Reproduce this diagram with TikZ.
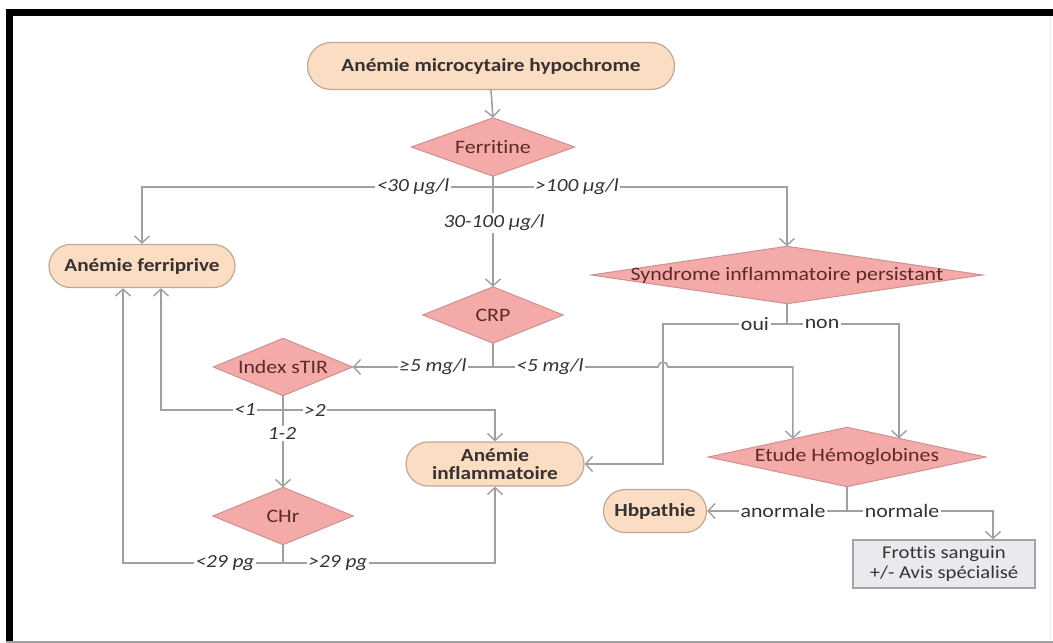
\documentclass[tikz,border=0pt]{standalone}
\usepackage{fontspec}
\setmainfont{Carlito}[FakeStretch=1.15,Ligatures=NoCommon]
\usetikzlibrary{arrows.meta,calc,backgrounds}
\definecolor{peach}{RGB}{251,221,196}
\definecolor{peachline}{RGB}{190,168,150}
\definecolor{pinkfill}{RGB}{245,170,170}
\definecolor{pinkline}{RGB}{205,145,145}
\definecolor{conncol}{RGB}{160,160,160}
\definecolor{txt}{RGB}{55,50,50}
\definecolor{diatxt}{RGB}{95,40,40}
\definecolor{boxfill}{RGB}{234,234,238}
\definecolor{boxline}{RGB}{165,165,168}
\begin{document}
\begin{tikzpicture}[x=1pt,y=-1pt,
  term/.style={rectangle, rounded corners=#1, draw=peachline, fill=peach, line width=1.2pt,
    inner sep=0pt, text=txt, font=\fontsize{18.5}{18}\selectfont\bfseries, align=center},
  dec/.style={rectangle, inner sep=0pt, text=diatxt, font=\fontsize{19}{20}\selectfont},
  dia/.style={draw=pinkline, fill=pinkfill, line width=1pt},
  plainbox/.style={rectangle, draw=boxline, fill=boxfill, line width=1.2pt, inner sep=0pt,
    text=txt, align=center, font=\fontsize{18}{20}\selectfont},
  conn/.style={draw=conncol, line width=1.6pt},
  arr/.style={conn, -{Straight Barb[length=7pt,width=15pt,line width=1.4pt]}},
  lbl/.style={fill=white, inner sep=1.5pt, text=txt, font=\fontsize{18.5}{19}\selectfont\itshape},
  ulbl/.style={fill=white, inner sep=1.5pt, text=txt, font=\fontsize{19}{19}\selectfont}
]
\useasboundingbox (0,0) rectangle (1053,643);
% frame
\fill[black] (6,9) rectangle (1053,16);
\fill[black] (6,9) rectangle (13,643);
\draw[gray!75, line width=2pt] (6,641.5) -- (1053,641.5);
\draw[gray!15, line width=1pt] (1050,16) -- (1050,640);

% nodes
\node[term=23.5, minimum width=367, minimum height=47] (top) at (491,66) {Anémie microcytaire hypochrome};
\node[dec, minimum width=163, minimum height=58] (fer) at (493,147) {Ferritine};
\node[term=21.5, minimum width=186, minimum height=43] (ferri) at (142,266) {Anémie ferriprive};
\node[dec, minimum width=391, minimum height=57] (syn) at (787,275) {Syndrome inflammatoire persistant};
\node[dec, minimum width=140, minimum height=56] (crp) at (493,315) {CRP};
\node[dec, minimum width=139, minimum height=57] (stir) at (283,367) {Index sTIR};
\node[term=22, minimum width=178, minimum height=44] (infl) at (495,464) {Anémie\\inflammatoire};
\node[dec, minimum width=277, minimum height=59] (etude) at (847,457) {Etude Hémoglobines};
\node[dec, minimum width=140, minimum height=57] (chr) at (283,516) {CHr};
\node[term=21.5, minimum width=103, minimum height=43] (hb) at (655,511) {Hbpathie};
\node[plainbox, minimum width=182, minimum height=48] (frot) at (944,564) {Frottis sanguin\\+/- Avis spécialisé};

\begin{scope}[on background layer]
\foreach \n in {fer,syn,crp,stir,etude,chr}
  \draw[dia] (\n.north) -- (\n.east) -- (\n.south) -- (\n.west) -- cycle;
\end{scope}

% junction coordinates
\coordinate (j1) at (493,187);
\coordinate (j2) at (493,367);
\coordinate (j3) at (283,410);
\coordinate (j4) at (283,563);
\coordinate (j5) at (787,324);
\coordinate (j6) at (847,511);
\coordinate (k) at (663,324);
\coordinate (fA) at ($(ferri.south)+(-19,0)$);
\coordinate (fB) at ($(ferri.south)+(19,0)$);
\coordinate (eA) at ($(etude.north)!0.39!(etude.west)$);
\coordinate (eB) at ($(etude.north)!0.375!(etude.east)$);
\coordinate (fr) at ($(frot.north)+(49,0)$);

% connectors
\draw[arr] (top.south) -- (fer.north);
\draw[arr] (fer.south) -- (crp.north);
\draw[arr] (j1) -| (ferri.north);
\draw[arr] (j1) -| (syn.north);
\draw[conn] (crp.south) -- (j2);
\draw[arr] (j2) -- (stir.east);
\draw[arr] (j2) -- (658,367) arc[start angle=180, end angle=360, radius=5] -- (eA |- j2) -- (eA);
\draw[arr] (stir.south) -- (chr.north);
\draw[arr] (j3) -| (fB);
\draw[arr] (j3) -| (infl.north);
\draw[conn] (chr.south) -- (j4);
\draw[arr] (j4) -| (fA);
\draw[arr] (j4) -| (infl.south);
\draw[conn] (syn.south) -- (j5);
\draw[arr] (j5) -- (k) |- (infl.east);
\draw[arr] (j5) -| (eB);
\draw[conn] (etude.south) -- (j6);
\draw[arr] (j6) -- (hb.east);
\draw[arr] (j6) -| (fr);

% labels
\node[lbl] (l1) at (413,187) {<30 µg/l};
\node[lbl] (l2) at (577,187) {>100 µg/l};
\node[lbl] (l3) at (494,223) {30-100 µg/l};
\node[lbl] (l4) at (433,367) {≥5 mg/l};
\node[lbl] (l5) at (550,367) {<5 mg/l};
\node[ulbl] (l6) at (755,324) {oui};
\node[ulbl] (l7) at (822,324) {non};
\node[lbl] (l8) at (245,410) {<1};
\node[lbl] (l9) at (315,410) {>2};
\node[lbl] (l10) at (282,433) {1-2};
\node[lbl] (l11) at (225,563) {<29 pg};
\node[lbl] (l12) at (338,563) {>29 pg};
\node[ulbl] (l13) at (783,511) {anormale};
\node[ulbl] (l14) at (902,511) {normale};
\end{tikzpicture}
\end{document}
